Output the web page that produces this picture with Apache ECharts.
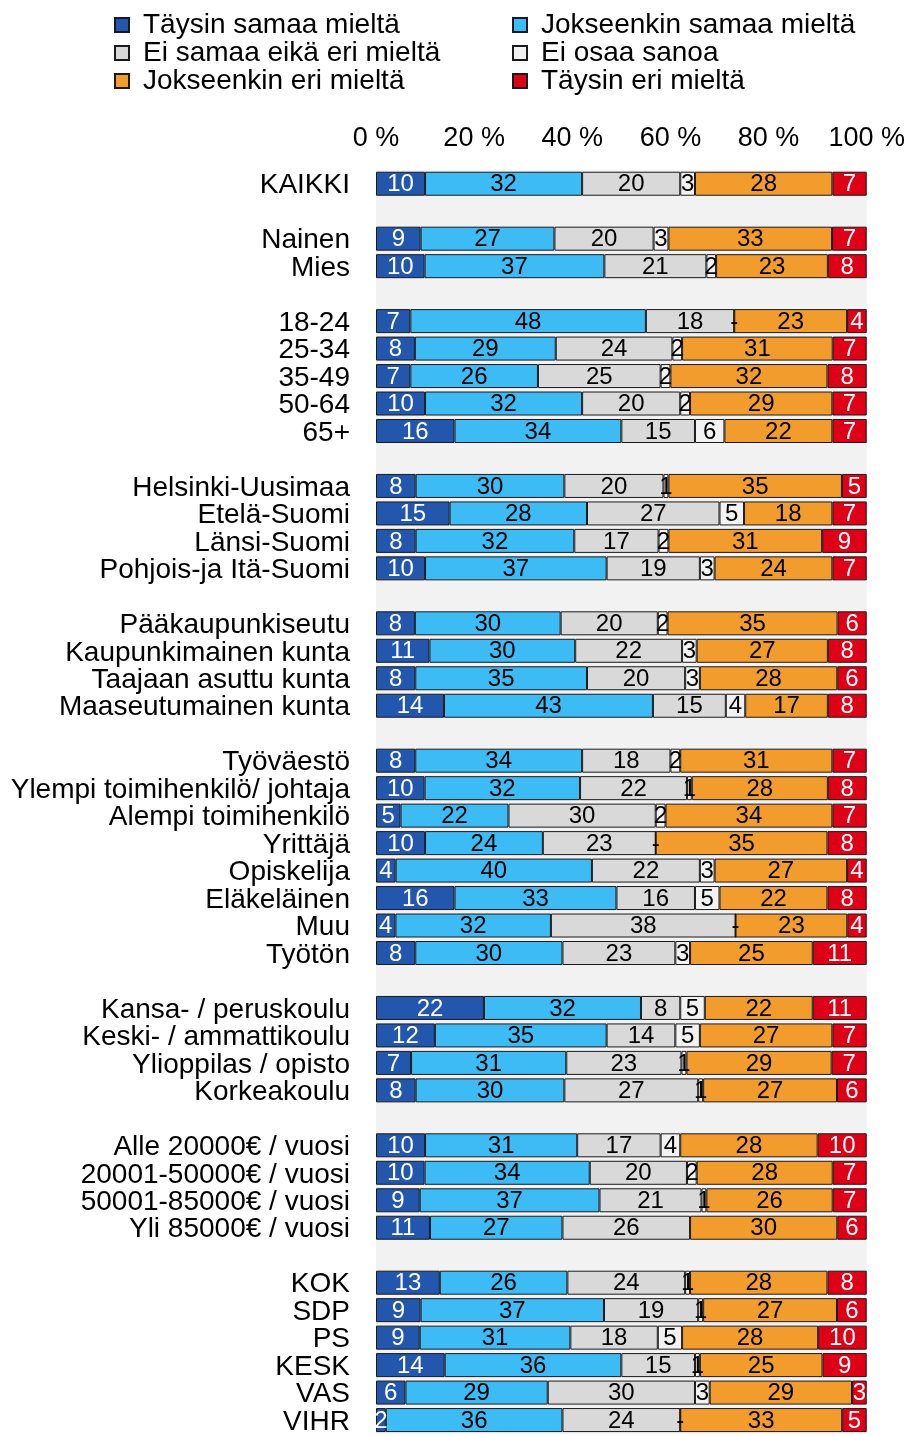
<!DOCTYPE html>
<html>
<head>
<meta charset="utf-8" />
<title>Mielipiteet</title>
<script src="https://cdn.jsdelivr.net/npm/echarts@6/dist/echarts.min.js"></script>
<style>
  html, body { margin: 0; padding: 0; background: #fff; }
</style>
</head>
<body>
<div id="main" style="width: 908px;height:1436px;"></div>
<script type="text/javascript">
// rivit ylhaalta alas, null = tyhja rivi ryhmien valissa
var categories = ['KAIKKI', null,
  'Nainen', 'Mies', null,
  '18-24', '25-34', '35-49', '50-64', '65+', null,
  'Helsinki-Uusimaa', 'Etelä-Suomi', 'Länsi-Suomi', 'Pohjois-ja Itä-Suomi', null,
  'Pääkaupunkiseutu', 'Kaupunkimainen kunta', 'Taajaan asuttu kunta', 'Maaseutumainen kunta', null,
  'Työväestö', 'Ylempi toimihenkilö/ johtaja', 'Alempi toimihenkilö', 'Yrittäjä', 'Opiskelija', 'Eläkeläinen', 'Muu', 'Työtön', null,
  'Kansa- / peruskoulu', 'Keski- / ammattikoulu', 'Ylioppilas / opisto', 'Korkeakoulu', null,
  'Alle 20000€ / vuosi', '20001-50000€ / vuosi', '50001-85000€ / vuosi', 'Yli 85000€ / vuosi', null,
  'KOK', 'SDP', 'PS', 'KESK', 'VAS', 'VIHR'];

var seriesNames = ['Täysin samaa mieltä', 'Jokseenkin samaa mieltä', 'Ei samaa eikä eri mieltä',
  'Ei osaa sanoa', 'Jokseenkin eri mieltä', 'Täysin eri mieltä'];

var taysinSamaa     = [10, null, 9, 10, null, 7, 8, 7, 10, 16, null, 8, 15, 8, 10, null, 8, 11, 8, 14, null, 8, 10, 5, 10, 4, 16, 4, 8, null, 22, 12, 7, 8, null, 10, 10, 9, 11, null, 13, 9, 9, 14, 6, 2];
var jokseenkinSamaa = [32, null, 27, 37, null, 48, 29, 26, 32, 34, null, 30, 28, 32, 37, null, 30, 30, 35, 43, null, 34, 32, 22, 24, 40, 33, 32, 30, null, 32, 35, 31, 30, null, 31, 34, 37, 27, null, 26, 37, 31, 36, 29, 36];
var eiSamaaEikaEri  = [20, null, 20, 21, null, 18, 24, 25, 20, 15, null, 20, 27, 17, 19, null, 20, 22, 20, 15, null, 18, 22, 30, 23, 22, 16, 38, 23, null, 8, 14, 23, 27, null, 17, 20, 21, 26, null, 24, 19, 18, 15, 30, 24];
var eiOsaaSanoa     = [3, null, 3, 2, null, 0, 2, 2, 2, 6, null, 1, 5, 2, 3, null, 2, 3, 3, 4, null, 2, 1, 2, 0, 3, 5, 0, 3, null, 5, 5, 1, 1, null, 4, 2, 1, null, null, 1, 1, 5, 1, 3, 0];
var jokseenkinEri   = [28, null, 33, 23, null, 23, 31, 32, 29, 22, null, 35, 18, 31, 24, null, 35, 27, 28, 17, null, 31, 28, 34, 35, 27, 22, 23, 25, null, 22, 27, 29, 27, null, 28, 28, 26, 30, null, 28, 27, 28, 25, 29, 33];
var taysinEri       = [7, null, 7, 8, null, 4, 7, 8, 7, 7, null, 5, 7, 9, 7, null, 6, 8, 6, 8, null, 7, 8, 7, 8, 4, 8, 4, 11, null, 11, 7, 7, 6, null, 10, 7, 7, 6, null, 8, 6, 10, 9, 3, 5];

var xTicks = [0, 20, 40, 60, 80, 100];

var colors = ['#2356ad', '#3dbbf5', '#d9d9d9', '#f2f2f2', '#f29c2e', '#dd0017'];
var labelColors = ['#fff', '#000', '#000', '#000', '#000', '#fff'];
var allValues = [taysinSamaa, jokseenkinSamaa, eiSamaaEikaEri, eiOsaaSanoa, jokseenkinEri, taysinEri];

var FONT = "'Liberation Sans', Arial, sans-serif";

// pyoristetyt luvut eivat aina summaudu sataan -> skaalataan rivi 100 %:iin
var rowSums = categories.map(function(c, i) {
  var s = 0;
  allValues.forEach(function(arr) { if (arr[i] != null) s += arr[i]; });
  return s;
});

var yLabels = categories.map(function(c, i) { return c == null ? 'gap' + i : c; });

var series = allValues.map(function(arr, si) {
  return {
    name: seriesNames[si],
    type: 'bar',
    stack: 'total',
    barWidth: 24,
    itemStyle: { color: colors[si], borderColor: '#1a1a1a', borderWidth: 1 },
    label: {
      show: true,
      position: 'inside',
      offset: [0, 1],
      color: labelColors[si],
      fontFamily: FONT,
      fontSize: 24,
      formatter: function(p) {
        var v = arr[p.dataIndex];
        if (v == null) return '';
        return v === 0 ? '-' : String(v);
      }
    },
    emphasis: { disabled: true },
    data: arr.map(function(v, i) { return v == null ? null : v / rowSums[i] * 100; })
  };
});

var myChart = echarts.init(document.getElementById('main'));

var legendText = { color: '#000', fontFamily: FONT, fontSize: 28, lineHeight: 28, padding: [0, 0, 0, 9] };

var option = {
  animation: false,
  backgroundColor: '#fff',
  legend: [{
    orient: 'vertical', left: 109, top: 6, itemWidth: 14, itemHeight: 14, itemGap: 0,
    icon: 'rect', textStyle: legendText,
    data: [seriesNames[0], seriesNames[2], seriesNames[4]]
  }, {
    orient: 'vertical', left: 507, top: 6, itemWidth: 14, itemHeight: 14, itemGap: 0,
    icon: 'rect', textStyle: legendText,
    data: [seriesNames[1], seriesNames[3], seriesNames[5]]
  }],
  grid: {
    left: 376, top: 170, width: 491, height: 1269,
    show: true, backgroundColor: '#f2f2f2', borderWidth: 0
  },
  xAxis: {
    type: 'value', position: 'top', min: xTicks[0], max: xTicks[xTicks.length - 1], interval: 20,
    axisLine: { show: false }, axisTick: { show: false }, splitLine: { show: false },
    axisLabel: { formatter: '{value} %', color: '#000', fontFamily: FONT, fontSize: 27, margin: 18 }
  },
  yAxis: {
    type: 'category', inverse: true, data: yLabels,
    axisLine: { show: false }, axisTick: { show: false },
    axisLabel: {
      color: '#000', fontFamily: FONT, fontSize: 28, margin: 26, interval: 0,
      formatter: function(v) { return v.indexOf('gap') === 0 ? '' : '{c|' + v + '}'; },
      rich: {
        c: { color: '#000', fontFamily: FONT, fontSize: 28, padding: [4, 0, 0, 0] }
      }
    }
  },
  series: series
};

myChart.setOption(option);
</script>
</body>
</html>
